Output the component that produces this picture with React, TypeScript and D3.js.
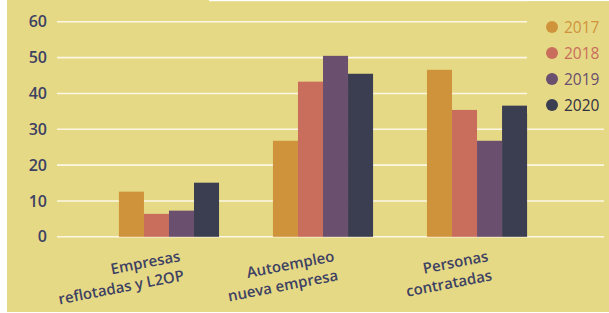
import React, { useRef, useEffect } from 'react'
import * as d3 from 'd3'

const categories = [
  ['Empresas', 'reflotadas y L2OP'],
  ['Autoempleo', 'nueva empresa'],
  ['Personas', 'contratadas'],
]
const years = ['2017', '2018', '2019', '2020']
const values2017 = [12.6, 26.8, 46.6]
const values2018 = [6.4, 43.3, 35.4]
const values2019 = [7.3, 50.5, 26.8]
const values2020 = [15.1, 45.5, 36.6]
const yTicks = [0, 10, 20, 30, 40, 50, 60]
const colors = ['#cf933c', '#c96d5d', '#6a4f6f', '#3b3e51']

const W = 609
const H = 313
const FONT = '"Open Sans", "Noto Sans", sans-serif'
const INK = '#3d4163'

const App = () => {
  const svgRef = useRef<SVGSVGElement>(null)

  useEffect(() => {
    const svg = d3.select(svgRef.current).attr('width', W).attr('height', H)
    svg.selectAll('*').remove()

    const series = [values2017, values2018, values2019, values2020]

    // panel background
    svg.append('rect').attr('x', 0).attr('y', 0).attr('width', W).attr('height', H).attr('fill', '#ffffff')
    svg.append('rect').attr('x', 7).attr('y', 0).attr('width', W - 7).attr('height', 312).attr('fill', '#e6d985')
    svg.append('rect').attr('x', 209).attr('y', 0).attr('width', W - 209).attr('height', 1.2).attr('fill', '#ffffff')

    const y = d3.scaleLinear().domain([0, 60]).range([236.8, 21.8])
    const x0 = d3
      .scaleBand()
      .domain(categories.map((c) => c.join(' ')))
      .range([65, 581])
      .paddingInner(0.35)
      .paddingOuter(0.35)
    const x1 = d3.scaleBand().domain(years).range([0, x0.bandwidth()])

    // gridlines
    svg
      .append('g')
      .selectAll('line')
      .data(yTicks)
      .enter()
      .append('line')
      .attr('x1', 57)
      .attr('x2', 604)
      .attr('y1', (d) => y(d))
      .attr('y2', (d) => y(d))
      .attr('stroke', '#fbf7e4')
      .attr('stroke-width', 1.6)

    // y tick labels
    svg
      .append('g')
      .selectAll('text')
      .data(yTicks)
      .enter()
      .append('text')
      .attr('x', 47)
      .attr('y', (d) => y(d))
      .attr('dy', '0.35em')
      .attr('text-anchor', 'end')
      .attr('font-family', FONT)
      .attr('font-size', 16)
      .attr('font-weight', 600)
      .attr('fill', INK)
      .text((d) => d)

    // bars
    const groups = svg
      .append('g')
      .selectAll('g')
      .data(categories)
      .enter()
      .append('g')
      .attr('transform', (c) => `translate(${x0(c.join(' '))},0)`)
    groups
      .selectAll('rect')
      .data((_, i) => series.map((s, k) => ({ year: years[k], v: s[i], k })))
      .enter()
      .append('rect')
      .attr('x', (d) => x1(d.year)!)
      .attr('width', x1.bandwidth())
      .attr('y', (d) => y(d.v))
      .attr('height', (d) => y(0) - y(d.v))
      .attr('fill', (d) => colors[d.k])

    // category labels, right aligned and rotated
    categories.forEach((c) => {
      const cx = x0(c.join(' '))! + x0.bandwidth() / 2
      const g = svg.append('g').attr('transform', `translate(${cx + 12},261) rotate(-11)`)
      c.forEach((line, i) => {
        g.append('text')
          .attr('x', 0)
          .attr('y', i * 19.5)
          .attr('text-anchor', 'end')
          .attr('font-family', FONT)
          .attr('font-size', 15)
          .attr('font-weight', 600)
          .attr('fill', INK)
          .text(line)
      })
    })

    // legend (covers gridlines behind it)
    svg.append('rect').attr('x', 527).attr('y', 1.2).attr('width', W - 527).attr('height', 112).attr('fill', '#e6d985')
    const legend = svg
      .append('g')
      .selectAll('g')
      .data(years)
      .enter()
      .append('g')
      .attr('transform', (_, i) => `translate(552,${27 + i * 26})`)
    legend.append('circle').attr('r', 6).attr('fill', (_, i) => colors[i])
    legend
      .append('text')
      .attr('x', 12)
      .attr('dy', '0.36em')
      .attr('font-family', FONT)
      .attr('font-size', 15.5)
      .attr('font-weight', 500)
      .attr('fill', (_, i) => (i === 3 ? '#2f3040' : colors[i]))
      .text((d) => d)
  }, [])

  return (
    <div style={{ position: 'fixed', left: 0, top: 0 }}>
      <svg ref={svgRef} style={{ display: 'block' }} />
    </div>
  )
}

export default App
